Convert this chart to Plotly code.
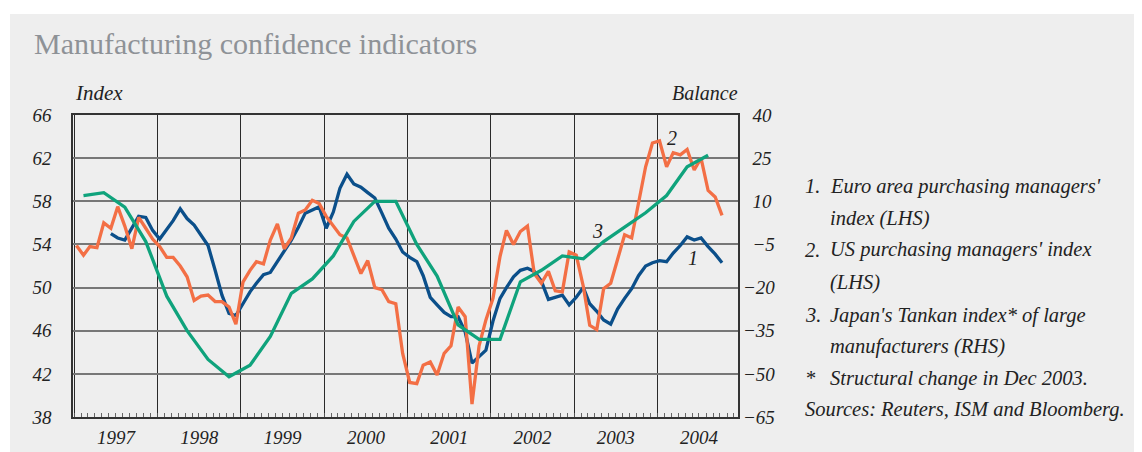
import pandas as pd
import plotly.graph_objects as go

# ---------------- data ----------------
us_start = "1997-01-01"
us_pmi = [
    53.9, 53.0, 53.8, 53.7, 56.0, 55.5, 57.5, 55.7, 53.6, 56.5, 55.5, 54.5,   # 1997
    53.8, 52.8, 52.8, 52.0, 51.0, 48.8, 49.2, 49.3, 48.7, 48.7, 48.2, 46.6,   # 1998
    50.5, 51.6, 52.4, 52.2, 54.4, 55.9, 53.6, 54.6, 56.9, 57.2, 58.1, 57.8,   # 1999
    56.6, 55.7, 54.9, 54.6, 53.0, 51.3, 52.5, 50.0, 49.8, 48.7, 48.5, 43.9,   # 2000
    41.2, 41.1, 42.8, 43.1, 41.9, 43.9, 44.6, 48.2, 47.3, 39.2, 44.6, 47.0,   # 2001
    49.0, 52.9, 55.3, 54.0, 55.2, 55.7, 51.3, 50.4, 51.5, 49.7, 49.6, 53.3,   # 2002
    53.0, 50.1, 46.5, 46.1, 49.9, 50.4, 52.6, 54.9, 54.6, 58.0, 61.2, 63.4,   # 2003
    63.6, 61.2, 62.5, 62.3, 62.8, 60.9, 62.0, 59.0, 58.4, 56.7,               # 2004
]

euro_start = "1997-06-01"
euro_pmi = [
    55.0, 54.6, 54.4, 55.5, 56.6, 56.5, 55.3,                                 # 1997
    54.5, 55.4, 56.2, 57.3, 56.4, 55.8, 54.9, 53.9, 51.6, 49.3, 47.6, 47.4,   # 1998
    48.5, 49.6, 50.4, 51.2, 51.4, 52.4, 53.5, 54.4, 55.6, 56.9, 57.2, 57.5,   # 1999
    55.5, 57.0, 59.2, 60.5, 59.6, 59.3, 58.8, 58.3, 56.9, 55.5, 54.5, 53.3,   # 2000
    52.8, 52.4, 51.1, 49.1, 48.4, 47.7, 47.3, 47.3, 45.9, 43.0, 43.6, 44.2,   # 2001
    46.9, 49.0, 50.0, 51.0, 51.6, 51.8, 51.5, 50.6, 48.9, 49.1, 49.3, 48.4,   # 2002
    49.1, 50.0, 48.5, 47.8, 47.0, 46.6, 48.0, 49.0, 49.9, 51.1, 52.0, 52.3,   # 2003
    52.5, 52.4, 53.2, 53.9, 54.7, 54.4, 54.6, 53.8, 53.1, 52.3,               # 2004
]

tankan_start = "1997-02-01"
tankan = [
    12, 13, 8, -4,          # 1997
    -23, -35, -45, -51,     # 1998
    -47, -37, -22, -17,     # 1999
    -9, 3, 10, 10,          # 2000
    -5, -16, -33, -38,      # 2001
    -38, -18, -14, -9,      # 2002
    -10, -4, 1, 6,          # 2003
    12, 22, 26,             # 2004
]

rhs_ticks = [-65, -50, -35, -20, -5, 10, 25, 40]

notes = [
    ("1.", "Euro area purchasing managers'"),
    ("", "index (LHS)"),
    ("2.", "US purchasing managers' index"),
    ("", "(LHS)"),
    ("3.", "Japan's Tankan index* of large"),
    ("", "manufacturers (RHS)"),
    ("*", "Structural change in Dec 2003."),
    ("Sources: Reuters, ISM and Bloomberg.", ""),
]

# ---------------- build ----------------
offset = pd.Timedelta(days=9)
us_x = pd.date_range(us_start, periods=len(us_pmi), freq="MS") + offset
euro_x = pd.date_range(euro_start, periods=len(euro_pmi), freq="MS") + offset
tankan_x = pd.date_range(tankan_start, periods=len(tankan), freq="3MS") + offset


def rhs_label(v):
    # right-align the right-hand labels by padding to the width of "−65"
    s = ("\u2212%d" % -v) if v < 0 else str(v)
    if v >= 0:
        s = "\u2002" + s
    elif v > -10:
        s = "\u2007" + s
    return s


BLUE = "#0b4f8a"
ORANGE = "#f36f45"
GREEN = "#0fa37c"
SERIF = "Liberation Serif"
BG = "#eeeeee"
INK = "#222222"

# the page body adds an 8 px margin; work in screen pixels and shift
OFF = 8
SW, SH = 1142, 452                       # screen size
PL, PR, PT, PB = 73, 738, 115, 417       # plot frame in screen pixels
W, H = SW - OFF, SH - OFF
L, R, T, B = PL - OFF, SW - PR, PT - OFF, SH - PB
pw, ph = PR - PL, PB - PT


def px_x(x):
    return (x - PL) / pw


def px_y(y):
    return (PB - y) / ph


fig = go.Figure()
fig.add_trace(go.Scatter(x=tankan_x, y=tankan, yaxis="y2", mode="lines",
                         line=dict(color=GREEN, width=3.3), name="3"))
fig.add_trace(go.Scatter(x=euro_x, y=euro_pmi, mode="lines",
                         line=dict(color=BLUE, width=3.3), name="1"))
fig.add_trace(go.Scatter(x=us_x, y=us_pmi, mode="lines",
                         line=dict(color=ORANGE, width=3.3), name="2"))

tickfont = dict(family=SERIF, size=19, color=INK, style="italic")

fig.update_layout(
    width=W, height=H,
    margin=dict(l=L, r=R, t=T, b=B, autoexpand=False),
    paper_bgcolor="white",
    plot_bgcolor=BG,
    showlegend=False,
    title=dict(text="Manufacturing confidence indicators",
               font=dict(family=SERIF, size=30, color="#8e9297"),
               x=(34 - OFF) / W, xanchor="left", xref="container",
               y=1 - (43 - OFF) / H, yanchor="middle", yref="container"),
    xaxis=dict(
        type="date",
        range=["1996-12-26", "2004-12-19"],
        tick0="1997-01-01", dtick="M12",
        tickformat="%Y", ticklabelmode="period",
        showgrid=True, gridcolor="#2a2a2a", gridwidth=1.2,
        ticks="inside", ticklen=4, tickcolor="#555555",
        showline=True, linecolor="#333333", linewidth=1.5, mirror=True,
        tickfont=tickfont, ticklabelstandoff=2,
        minor=dict(dtick="M1", tick0="1997-01-01", ticks="inside",
                   ticklen=4, tickcolor="#666666", showgrid=False),
        zeroline=False,
    ),
    yaxis=dict(
        range=[38, 66], tick0=38, dtick=4,
        showgrid=True, gridcolor="#777777", gridwidth=2,
        showline=True, linecolor="#333333", linewidth=1.5, mirror=True,
        ticks="", tickfont=tickfont, ticklabelstandoff=16,
        zeroline=False,
    ),
    yaxis2=dict(
        range=[-65, 40], tickmode="array",
        tickvals=rhs_ticks, ticktext=[rhs_label(v) for v in rhs_ticks],
        overlaying="y", side="right",
        showgrid=False, zeroline=False, showline=False,
        ticks="", tickfont=tickfont, ticklabelstandoff=4,
    ),
)

# background panel
fig.add_shape(type="rect", xref="paper", yref="paper",
              x0=px_x(10), x1=px_x(SW + 5), y0=px_y(SH + 5), y1=px_y(14),
              fillcolor=BG, line=dict(width=0), layer="below")

# axis captions
fig.add_annotation(text="<i>Index</i>", xref="paper", yref="paper",
                   x=px_x(73), y=px_y(93), xanchor="left", yanchor="middle",
                   showarrow=False, font=dict(family=SERIF, size=21, color=INK))
fig.add_annotation(text="<i>Balance</i>", xref="paper", yref="paper",
                   x=px_x(740), y=px_y(93), xanchor="right", yanchor="middle",
                   showarrow=False, font=dict(family=SERIF, size=20, color=INK))

# series labels
for txt, xv, yv in [("1", "2004-06-05", 52.7),
                    ("2", "2004-03-05", 63.85),
                    ("3", "2003-04-12", 55.2)]:
    fig.add_annotation(text="<i>%s</i>" % txt, x=xv, y=yv, xref="x", yref="y",
                       showarrow=False, font=dict(family=SERIF, size=20, color=INK))

# notes on the right
ys = [186, 218, 250, 282, 315, 346, 378, 409]
for (num, txt), yy in zip(notes, ys):
    if num:
        fig.add_annotation(text="<i>%s</i>" % num, xref="paper", yref="paper",
                           x=px_x(803), y=px_y(yy), xanchor="left", yanchor="middle",
                           showarrow=False, font=dict(family=SERIF, size=20.5, color=INK))
    if txt:
        fig.add_annotation(text="<i>%s</i>" % txt, xref="paper", yref="paper",
                           x=px_x(828), y=px_y(yy), xanchor="left", yanchor="middle",
                           showarrow=False, font=dict(family=SERIF, size=20.5, color=INK))

fig.write_html("out.html")
